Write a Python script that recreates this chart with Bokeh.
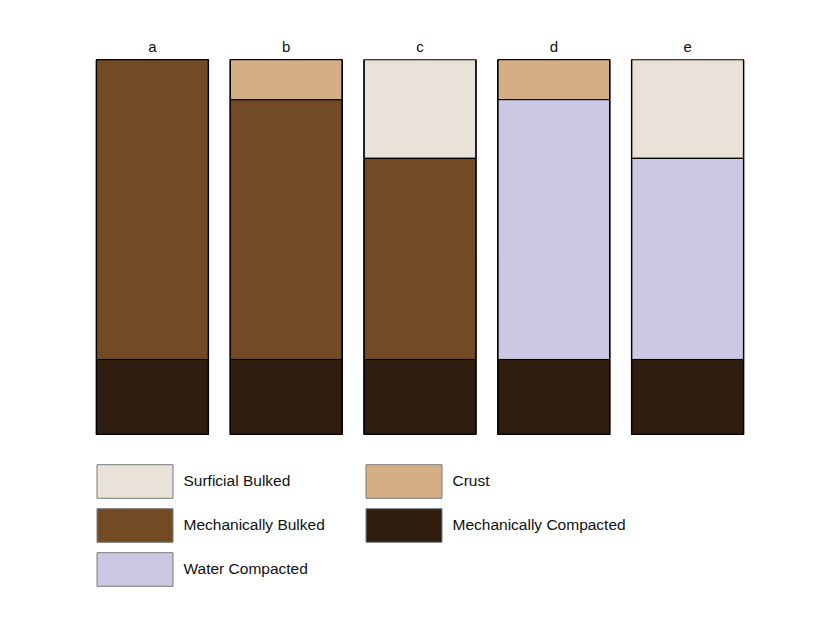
from bokeh.plotting import figure
from bokeh.models import ColumnDataSource, Range1d, Legend, LegendItem
from bokeh.embed import file_html
from bokeh.resources import INLINE

# layer thickness (% of column depth)
columns = ["a", "b", "c", "d", "e"]
mech_compacted = [20, 20, 20, 20, 20]
mech_bulked = [80, 69.3, 53.7, 0, 0]
water_compacted = [0, 0, 0, 69.3, 53.7]
crust = [0, 10.7, 0, 10.7, 0]
surficial_bulked = [0, 0, 26.3, 0, 26.3]

layers = ["mech_compacted", "mech_bulked", "water_compacted", "crust", "surficial_bulked"]
layer_names = ["Mechanically Compacted", "Mechanically Bulked", "Water Compacted",
               "Crust", "Surficial Bulked"]
colors = ["#2f1d10", "#724b24", "#cbc8e3", "#d4ae85", "#e8e2d8"]

FONT = "Liberation Sans"

totals = [sum(v) for v in zip(mech_compacted, mech_bulked, water_compacted, crust, surficial_bulked)]
source = ColumnDataSource(data=dict(columns=columns, mech_compacted=mech_compacted,
                                    mech_bulked=mech_bulked, water_compacted=water_compacted,
                                    crust=crust, surficial_bulked=surficial_bulked, total=totals))

p = figure(x_range=columns, y_range=Range1d(-47.5, 100), width=824, height=612,
           frame_width=669, frame_height=553, min_border_left=85, min_border_right=70,
           min_border_top=59, min_border_bottom=0, x_axis_location="above",
           y_axis_location=None, toolbar_location=None, output_backend="svg")
p.x_range.range_padding = 0

p.vbar_stack(layers, x="columns", width=0.837, source=source, color=colors,
             line_color="black", line_width=1)
p.vbar(x="columns", top="total", bottom=0, width=0.837, source=source,
       fill_color=None, line_color="black", line_width=1.4)

# legend swatches (grey outline like the original key); the bars sit below the view
items = []
for name in ["Surficial Bulked", "Mechanically Bulked", "Water Compacted",
             "Crust", "Mechanically Compacted"]:
    c = colors[layer_names.index(name)]
    r = p.vbar(x=["a"], top=[-300], bottom=[-301], width=0.5, fill_color=c,
               line_color="#7a7a7a", line_width=1)
    items.append(LegendItem(label=name, renderers=[r]))

# bokeh insets area swatches by 10% on each side, so the glyph box is 95x42
legend = Legend(items=items, location=(1.5, 22.2), ncols=2, orientation="vertical",
                glyph_width=95, glyph_height=42, label_standoff=2, label_width=170,
                spacing=2, padding=0, margin=0, border_line_color=None,
                background_fill_alpha=0, label_text_font=FONT,
                label_text_font_size="15.5px", label_text_color="#111111")
p.add_layout(legend)

p.xaxis.axis_line_color = None
p.xaxis.major_tick_line_color = None
p.xaxis.minor_tick_line_color = None
p.xaxis.major_tick_out = 0
p.xaxis.major_label_standoff = 5
p.xaxis.major_label_text_font = FONT
p.xaxis.major_label_text_font_size = "15px"
p.xaxis.major_label_text_color = "#111111"
p.xgrid.grid_line_color = None
p.ygrid.grid_line_color = None
p.outline_line_color = None
p.background_fill_color = "white"
p.border_fill_color = "white"

open("out.html", "w").write(file_html(p, INLINE))
